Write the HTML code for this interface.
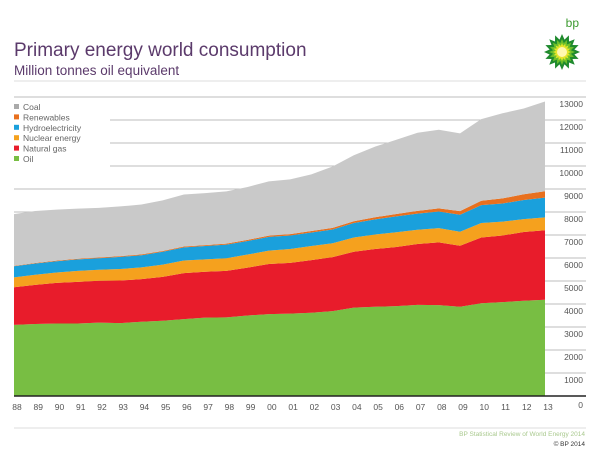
<!DOCTYPE html>
<html><head><meta charset="utf-8"><style>
html,body{margin:0;padding:0;background:#fff;}
body{width:600px;height:461px;overflow:hidden;font-family:"Liberation Sans",sans-serif;}
</style></head><body>
<svg id="chart" width="600" height="461" viewBox="0 0 600 461" xmlns="http://www.w3.org/2000/svg">
<text x="14" y="56" font-size="19" fill="#5b3a6b">Primary energy world consumption</text>
<text x="14" y="75" font-size="13.5" fill="#5b3a6b">Million tonnes oil equivalent</text>
<line x1="14" y1="81" x2="586" y2="81" stroke="#ddd" stroke-width="1"/>
<g id="logo"></g>
<text x="579" y="27" font-size="12" fill="#3c9a2f" text-anchor="end">bp</text>
<g id="grid"></g>
<rect x="14" y="100" width="96" height="70" fill="#fff"/>
<g id="areas"></g>
<g id="axes"></g>
<g id="legend"></g>
<line x1="14" y1="428" x2="586" y2="428" stroke="#ddd"/>
<text x="585" y="436" font-size="6.5" fill="#a9c98e" text-anchor="end">BP Statistical Review of World Energy 2014</text>
<text x="585" y="446" font-size="6.5" fill="#333" text-anchor="end">© BP 2014</text>
</svg>
<script>
const years = ["88","89","90","91","92","93","94","95","96","97","98","99","00","01","02","03","04","05","06","07","08","09","10","11","12","13"];
const oil = [3090,3130,3150,3150,3190,3170,3230,3270,3340,3410,3420,3500,3560,3580,3620,3690,3840,3880,3910,3960,3950,3880,4030,4080,4140,4185];
const gas = [1640,1700,1770,1810,1820,1850,1850,1910,2000,1990,2020,2080,2180,2210,2290,2350,2430,2510,2570,2650,2730,2650,2860,2900,2990,3020];
const nuclear = [430,440,450,480,480,500,510,530,550,540,550,570,580,600,610,600,620,630,640,620,620,610,630,600,560,563];
const hydro = [480,490,490,500,500,530,530,560,570,580,590,590,600,590,590,600,630,660,690,700,720,740,780,790,830,856];
const renewables = [20,22,25,27,30,32,35,37,40,42,45,48,52,58,64,70,80,92,104,118,137,160,190,222,250,279];
const coal = [2250,2260,2220,2180,2160,2160,2170,2200,2260,2260,2270,2300,2360,2380,2460,2670,2870,3070,3230,3400,3420,3380,3550,3700,3730,3900];
const yTicks = [0,1000,2000,3000,4000,5000,6000,7000,8000,9000,10000,11000,12000,13000];
const seriesNames = ["Oil","Natural gas","Nuclear energy","Hydroelectricity","Renewables","Coal"];
const seriesColors = ["#78be43","#e81c2b","#f5a11e","#1aa0dc","#e8701e","#c9c9c9"];

const NS="http://www.w3.org/2000/svg";
const x0=14,x1=545,yBase=396,yTop=97,vMax=13000;
const xs=i=>x0+(x1-x0)*i/(years.length-1);
const ys=v=>yBase-(yBase-yTop)*v/vMax;
function mk(tag,attrs,parent){const e=document.createElementNS(NS,tag);for(const k in attrs)e.setAttribute(k,attrs[k]);parent.appendChild(e);return e;}

const grid=document.getElementById('grid');
yTicks.forEach(t=>{
  if(t>0){const l=mk('line',{x1:x0,x2:586,y1:ys(t),y2:ys(t),stroke:'#bdbdbd','stroke-width':1},grid);
  
  }
  const tx=mk('text',{x:583,y:ys(t)+(t===0?12:10),'font-size':8.5,fill:'#555','text-anchor':'end'},grid);
  tx.textContent=t;
  
  
});

const series=[oil,gas,nuclear,hydro,renewables,coal];
const areas=document.getElementById('areas');
let lower=years.map(()=>0);
series.forEach((s,k)=>{
  const upper=s.map((v,i)=>lower[i]+v);
  let d='M'+years.map((_,i)=>xs(i)+','+ys(upper[i])).join('L');
  for(let i=years.length-1;i>=0;i--)d+='L'+xs(i)+','+ys(lower[i]);
  d+='Z';
  const p=mk('path',{d:d,fill:seriesColors[k]},areas);
  
  
  lower=upper;
});

const axes=document.getElementById('axes');
const bl=mk('line',{x1:x0,x2:586,y1:yBase,y2:yBase,stroke:'#222','stroke-width':1.5},axes);


years.forEach((y,i)=>{
  const t=mk('text',{x:xs(i)+3,y:410,'font-size':8.5,fill:'#555','text-anchor':'middle'},axes);
  t.textContent=y;
  
  
});

const lg=document.getElementById('legend');
seriesNames.slice().reverse().forEach((n,j)=>{
  const k=seriesNames.length-1-j;
  const g=mk('g',{},lg);
  
  
  const sq=seriesColors[k]==="#c9c9c9"?"#aaa":seriesColors[k];
  mk('rect',{x:14,y:104+j*10.4,width:5,height:5,fill:sq},g);
  const t=mk('text',{x:23,y:110+j*10.4,'font-size':8.5,fill:'#666'},g);
  t.textContent=n;
});

const logo=document.getElementById('logo');
const cx=562,cy=52;
for(let r=0;r<3;r++){
  const R=[18,13,9][r],col=['#1f8a2e','#6cbf2a','#e5e52a'][r];
  let pts=[];const n=16;
  for(let i=0;i<n*2;i++){const a=Math.PI*i/n;const rr=i%2?R*0.7:R;pts.push((cx+rr*Math.cos(a)).toFixed(1)+','+(cy+rr*Math.sin(a)).toFixed(1));}
  mk('polygon',{points:pts.join(' '),fill:col},logo);
}
mk('circle',{cx:cx,cy:cy,r:5,fill:'#fff8b0'},logo);
</script>
</body></html>
